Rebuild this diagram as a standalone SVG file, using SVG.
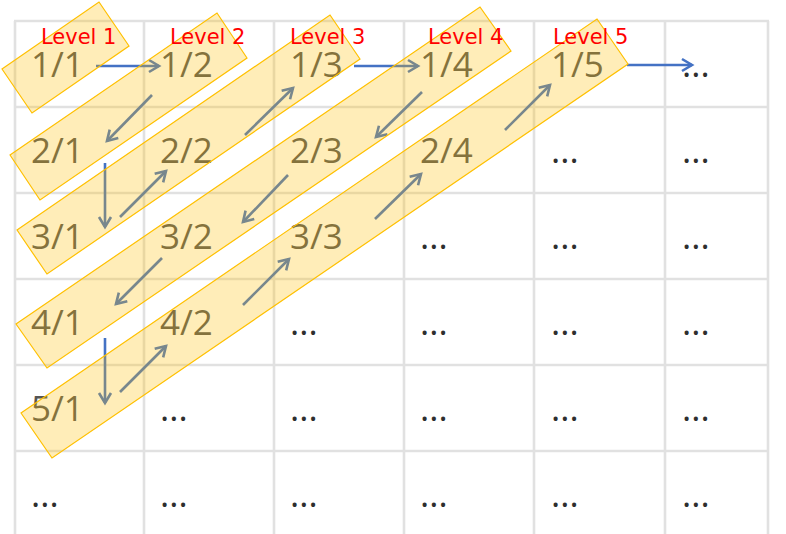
<svg xmlns="http://www.w3.org/2000/svg" width="786" height="534" viewBox="0 0 786 534">
<style>
.grid line{stroke:#e1e1e1;stroke-width:2.6}
.cell{font-family:"Open Sans","Noto Sans",sans-serif;font-size:35px;fill:#555555}
.dots{font-family:"Open Sans","Noto Sans",sans-serif;font-size:35px;fill:#2e2e2e}
.conn line{stroke:#4472C4;stroke-width:2.6;fill:none;marker-end:url(#ah)}
.band{fill:#FFC000;fill-opacity:0.28;stroke:#FFC000;stroke-width:1.2}
.lvl{font-family:"DejaVu Sans","Noto Sans",sans-serif;font-size:21px;fill:#FF0000}
</style>
<defs>
<marker id="ah" markerUnits="userSpaceOnUse" markerWidth="16" markerHeight="16" refX="12" refY="8" orient="auto" overflow="visible">
<path d="M2,2 L12,8 L2,14" fill="none" stroke="#4472C4" stroke-width="2.6" stroke-linejoin="miter"/>
</marker>
</defs>
<rect width="786" height="534" fill="#fff"/>
<g id="grid" class="grid">
<line x1="15" y1="21" x2="15" y2="534"/>
<line x1="144" y1="21" x2="144" y2="534"/>
<line x1="274" y1="21" x2="274" y2="534"/>
<line x1="404" y1="21" x2="404" y2="534"/>
<line x1="534" y1="21" x2="534" y2="534"/>
<line x1="665" y1="21" x2="665" y2="534"/>
<line x1="768" y1="21" x2="768" y2="534"/>
<line x1="14" y1="21" x2="769" y2="21"/>
<line x1="14" y1="107" x2="769" y2="107"/>
<line x1="14" y1="193" x2="769" y2="193"/>
<line x1="14" y1="279" x2="769" y2="279"/>
<line x1="14" y1="365" x2="769" y2="365"/>
<line x1="14" y1="451" x2="769" y2="451"/>
</g>
<g id="cells">
<g id="c11"><text class="cell" x="31" y="77">1/1</text></g>
<g id="c12"><text class="cell" x="160" y="77">1/2</text></g>
<g id="c13"><text class="cell" x="290" y="77">1/3</text></g>
<g id="c14"><text class="cell" x="420" y="77">1/4</text></g>
<g id="c15"><text class="cell" x="551" y="77">1/5</text></g>
<g id="c16"><text class="dots" x="682" y="77">...</text></g>
<g id="c21"><text class="cell" x="31" y="163">2/1</text></g>
<g id="c22"><text class="cell" x="160" y="163">2/2</text></g>
<g id="c23"><text class="cell" x="290" y="163">2/3</text></g>
<g id="c24"><text class="cell" x="420" y="163">2/4</text></g>
<g id="c25"><text class="dots" x="551" y="163">...</text></g>
<g id="c26"><text class="dots" x="682" y="163">...</text></g>
<g id="c31"><text class="cell" x="31" y="249">3/1</text></g>
<g id="c32"><text class="cell" x="160" y="249">3/2</text></g>
<g id="c33"><text class="cell" x="290" y="249">3/3</text></g>
<g id="c34"><text class="dots" x="420" y="249">...</text></g>
<g id="c35"><text class="dots" x="551" y="249">...</text></g>
<g id="c36"><text class="dots" x="682" y="249">...</text></g>
<g id="c41"><text class="cell" x="31" y="335">4/1</text></g>
<g id="c42"><text class="cell" x="160" y="335">4/2</text></g>
<g id="c43"><text class="dots" x="290" y="335">...</text></g>
<g id="c44"><text class="dots" x="420" y="335">...</text></g>
<g id="c45"><text class="dots" x="551" y="335">...</text></g>
<g id="c46"><text class="dots" x="682" y="335">...</text></g>
<g id="c51"><text class="cell" x="31" y="421">5/1</text></g>
<g id="c52"><text class="dots" x="160" y="421">...</text></g>
<g id="c53"><text class="dots" x="290" y="421">...</text></g>
<g id="c54"><text class="dots" x="420" y="421">...</text></g>
<g id="c55"><text class="dots" x="551" y="421">...</text></g>
<g id="c56"><text class="dots" x="682" y="421">...</text></g>
<g id="c61"><text class="dots" x="31" y="507">...</text></g>
<g id="c62"><text class="dots" x="160" y="507">...</text></g>
<g id="c63"><text class="dots" x="290" y="507">...</text></g>
<g id="c64"><text class="dots" x="420" y="507">...</text></g>
<g id="c65"><text class="dots" x="551" y="507">...</text></g>
<g id="c66"><text class="dots" x="682" y="507">...</text></g>
</g>
<g id="connectors" class="conn">
<line x1="96" y1="66" x2="159" y2="66"/>
<line x1="152" y1="95" x2="107" y2="141"/>
<line x1="105" y1="163" x2="105" y2="227"/>
<line x1="120" y1="217" x2="166" y2="171"/>
<line x1="245" y1="135" x2="293" y2="88"/>
<line x1="354" y1="66" x2="418" y2="66"/>
<line x1="422" y1="92" x2="376" y2="137"/>
<line x1="288" y1="175" x2="243" y2="222"/>
<line x1="162" y1="258" x2="116" y2="304"/>
<line x1="105" y1="338" x2="105" y2="403"/>
<line x1="120" y1="392" x2="166" y2="346"/>
<line x1="243" y1="305" x2="289" y2="259"/>
<line x1="375" y1="219" x2="421" y2="174"/>
<line x1="505" y1="130" x2="550" y2="85"/>
<line x1="627" y1="65" x2="692" y2="65"/>
</g>
<g id="bands">
<polygon id="band1" class="band" points="2,69 99,2 129,46 32,113"/>
<polygon id="band2" class="band" points="10,155 217,13 247,58 40,200"/>
<polygon id="band3" class="band" points="17,230 330,15 360,59 47,274"/>
<polygon id="band4" class="band" points="16,324 480,7 511,51 47,368"/>
<polygon id="band5" class="band" points="21,413 597,19 628,64 52,458"/>
</g>
<g id="levels">
<text class="lvl" x="41" y="44">Level 1</text>
<text class="lvl" x="170" y="44">Level 2</text>
<text class="lvl" x="290" y="44">Level 3</text>
<text class="lvl" x="428" y="44">Level 4</text>
<text class="lvl" x="553" y="44">Level 5</text>
</g>
</svg>
